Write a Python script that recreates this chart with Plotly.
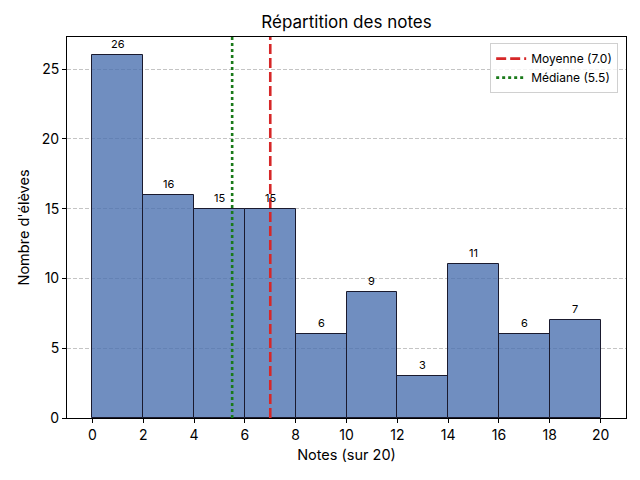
import plotly.graph_objects as go

bin_edges = [0, 2, 4, 6, 8, 10, 12, 14, 16, 18, 20]
counts = [26, 16, 15, 15, 6, 9, 3, 11, 6, 7]
moyenne = 7.0
mediane = 5.5

centers = [(bin_edges[i] + bin_edges[i + 1]) / 2 for i in range(len(counts))]
widths = [bin_edges[i + 1] - bin_edges[i] for i in range(len(counts))]
ymax = max(counts) * 1.05

font = "Inter, Lato, sans-serif"

bars = go.Bar(
    x=centers,
    y=counts,
    width=widths,
    marker=dict(color="rgba(76,114,176,0.8)", line=dict(color="#1a1a2e", width=1)),
    showlegend=False,
    hoverinfo="x+y",
)

mean_line = go.Scatter(
    x=[moyenne, moyenne], y=[0, ymax],
    mode="lines",
    line=dict(color="#d62728", width=2.6, dash="10px,4px"),
    name=f"Moyenne ({moyenne:.1f})",
)

median_line = go.Scatter(
    x=[mediane, mediane], y=[0, ymax],
    mode="lines",
    line=dict(color="#1a7a1a", width=2.6, dash="dot"),
    name=f"Médiane ({mediane:.1f})",
)

fig = go.Figure(data=[bars, mean_line, median_line])

for c, n in zip(centers, counts):
    fig.add_annotation(x=c, y=n, text=str(n), showarrow=False, yshift=11,
                       font=dict(size=11, color="black", family=font))

# the page adds an 8px body margin, so the margins are shifted to compensate
fig.update_layout(
    width=640, height=480,
    plot_bgcolor="white", paper_bgcolor="white",
    margin=dict(l=59, r=22, t=29, b=70, autoexpand=False),
    font=dict(family=font, size=13, color="black"),
    title=dict(text="Répartition des notes", x=(59 + 618) / 2 / 640, xanchor="center",
               y=1 - 14 / 480, yanchor="middle", yref="container",
               font=dict(size=17)),
    bargap=0,
    legend=dict(x=0.986, y=0.984, xanchor="right", yanchor="top",
                bgcolor="rgba(255,255,255,0.8)", bordercolor="#d0d0d0", borderwidth=1,
                font=dict(size=12)),
)

fig.update_xaxes(
    range=[-1, 21], tickmode="array", tickvals=list(range(0, 21, 2)),
    showgrid=False, zeroline=False, automargin=False,
    showline=True, linecolor="black", linewidth=1, mirror=True,
    ticks="outside", ticklen=4, tickcolor="black", tickfont=dict(size=14),
    title=dict(text="Notes (sur 20)", standoff=8, font=dict(size=14.5)),
)
fig.update_yaxes(
    range=[0, ymax], tickvals=[0, 5, 10, 15, 20, 25],
    showgrid=True, gridcolor="#c4c4c4", griddash="4px,2px", gridwidth=0.8,
    zeroline=False, automargin=False,
    showline=True, linecolor="black", linewidth=1, mirror=True,
    ticks="outside", ticklen=4, tickcolor="black", tickfont=dict(size=14),
    title=dict(text="Nombre d'élèves", standoff=8, font=dict(size=14.5)),
)

fig.write_html("out.html")
